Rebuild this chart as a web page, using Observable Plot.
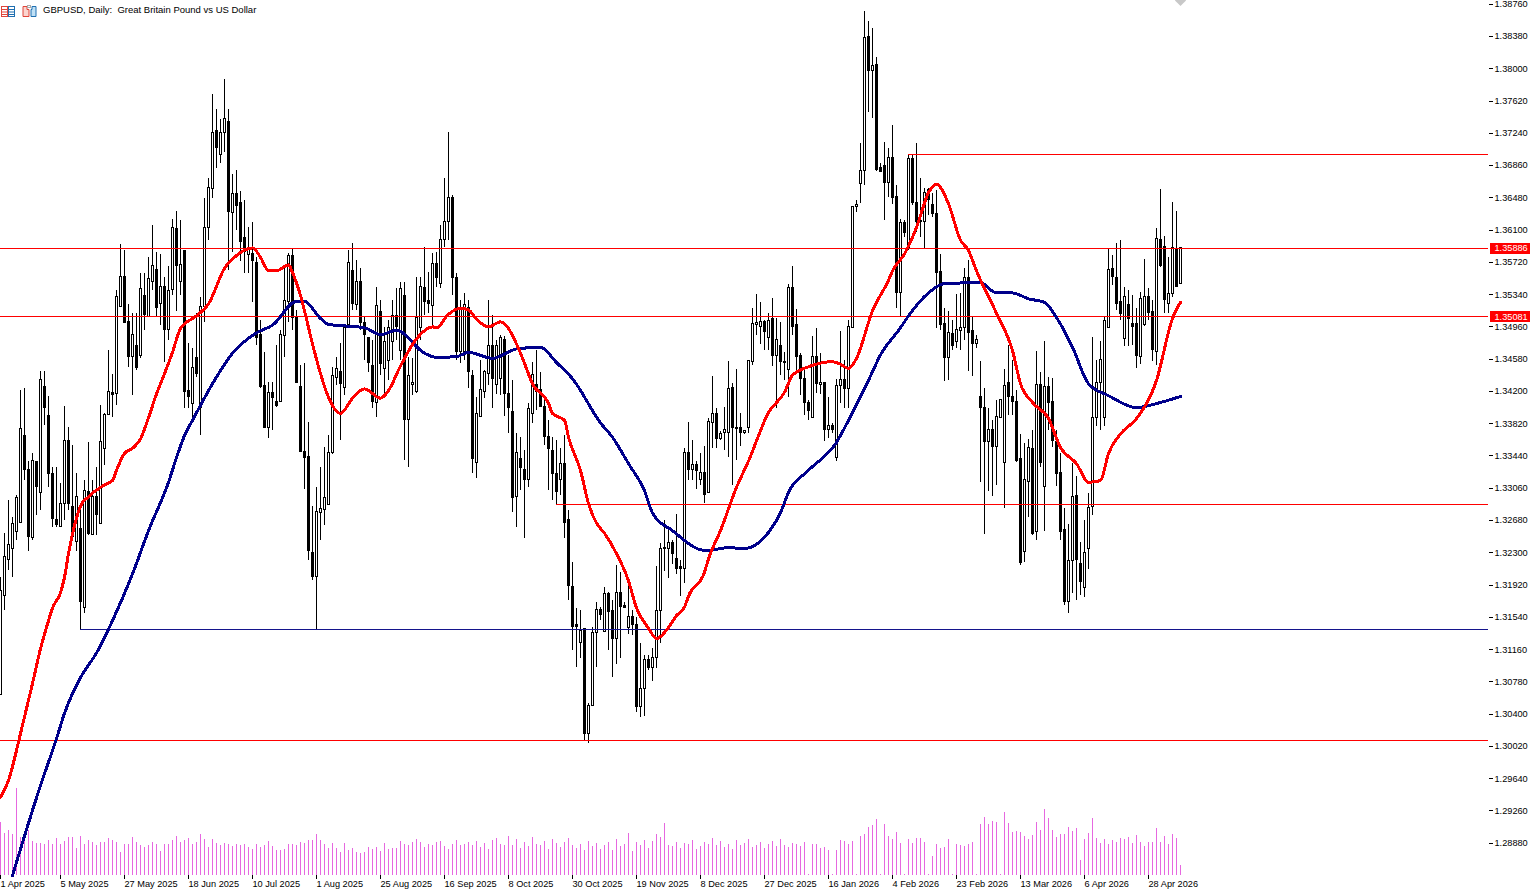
<!DOCTYPE html>
<html><head><meta charset="utf-8">
<style>html,body{margin:0;padding:0;background:#fff;overflow:hidden}#wrap{position:relative;width:1532px;height:889px}svg.plot{white-space:pre;display:block}#icons{position:absolute;left:0;top:4px}</style>
<script src="https://cdn.jsdelivr.net/npm/d3@7"></script>
<script src="https://cdn.jsdelivr.net/npm/@observablehq/plot@0.6"></script>
</head><body><div id="wrap"></div>
<script>
const title = "GBPUSD, Daily:  Great Britain Pound vs US Dollar";
// prices in pips (13589 = 1.3589)
const opens = [13062,13179,13221,13235,13255,13265,13367,13328,13247,13337,13300,13425,13391,13323,13269,13260,13288,13362,13284,13243,
13258,13165,13302,13251,13296,13264,13352,13392,13418,13417,13520,13555,13502,13460,13474,13462,13532,13508,13549,13563,
13523,13543,13492,13539,13611,13549,13585,13420,13405,13459,13400,13520,13612,13658,13727,13699,13724,13737,13630,13653,
13642,13601,13581,13582,13571,13486,13426,13377,13418,13408,13407,13485,13525,13579,13506,13425,13349,13343,13230,13201,
13277,13280,13286,13348,13436,13443,13424,13498,13562,13522,13549,13501,13483,13450,13406,13514,13446,13456,13478,13509,
13468,13532,13386,13428,13419,13495,13542,13526,13521,13570,13546,13598,13619,13648,13553,13466,13466,13518,13438,13336,
13390,13419,13440,13473,13428,13435,13480,13417,13396,13296,13341,13328,13316,13394,13428,13422,13402,13366,13350,13323,
13316,13335,13269,13190,13145,13124,13140,13017,13049,13135,13163,13137,13181,13161,13129,13183,13167,13141,13154,13145,
13048,13069,13104,13094,13106,13161,13236,13235,13242,13223,13213,13211,13347,13327,13333,13316,13324,13300,13383,13393,
13364,13371,13371,13424,13377,13377,13371,13377,13455,13498,13496,13502,13483,13505,13462,13473,13455,13445,13542,13498,
13462,13435,13406,13389,13461,13428,13430,13374,13379,13342,13426,13433,13423,13495,13637,13664,13679,13837,13797,13804,
13683,13685,13665,13695,13649,13536,13618,13589,13694,13642,13621,13619,13657,13640,13629,13561,13499,13459,13488,13478,
13491,13495,13553,13491,13476,13414,13401,13360,13375,13355,13389,13336,13430,13413,13408,13340,13231,13313,13352,13254,
13428,13307,13425,13407,13361,13324,13257,13172,13220,13297,13217,13189,13235,13284,13389,13430,13389,13495,13564,13554,
13525,13482,13522,13499,13499,13461,13498,13531,13513,13467,13598,13590,13523,13535,13588,13547];
const highs = [13201,13253,13291,13272,13297,13421,13423,13338,13347,13338,13443,13443,13414,13330,13330,13311,13402,13377,13356,13323,
13283,13315,13360,13315,13330,13403,13394,13468,13440,13539,13593,13586,13522,13512,13512,13559,13559,13578,13615,13584,
13581,13554,13567,13622,13632,13621,13585,13476,13470,13512,13531,13647,13671,13770,13752,13740,13787,13752,13675,13680,
13655,13645,13613,13619,13578,13503,13466,13430,13430,13474,13492,13566,13583,13588,13515,13450,13453,13384,13285,13307,
13330,13354,13368,13448,13460,13476,13495,13586,13594,13574,13565,13507,13483,13480,13542,13527,13495,13503,13527,13541,
13548,13548,13460,13459,13554,13554,13589,13560,13582,13584,13615,13671,13725,13651,13559,13527,13535,13527,13445,13413,
13456,13445,13527,13509,13480,13486,13485,13462,13433,13370,13366,13350,13406,13454,13468,13442,13409,13386,13366,13362,
13353,13368,13280,13218,13164,13162,13141,13052,13142,13171,13165,13189,13183,13174,13215,13207,13171,13191,13162,13154,
13123,13109,13109,13117,13214,13241,13268,13258,13244,13275,13221,13353,13383,13362,13338,13347,13355,13388,13437,13400,
13373,13401,13455,13429,13446,13394,13374,13456,13518,13534,13525,13503,13512,13529,13506,13501,13466,13546,13567,13517,
13465,13445,13409,13485,13494,13465,13430,13413,13382,13434,13491,13457,13503,13637,13645,13712,13867,13856,13847,13813,
13688,13713,13706,13733,13662,13622,13621,13698,13698,13712,13671,13659,13659,13653,13657,13581,13518,13514,13503,13534,
13535,13565,13574,13507,13486,13455,13424,13400,13386,13409,13410,13446,13474,13456,13421,13369,13359,13363,13374,13467,
13442,13479,13436,13435,13374,13347,13282,13263,13335,13320,13242,13268,13300,13483,13457,13479,13507,13588,13580,13594,
13598,13542,13539,13533,13518,13536,13575,13541,13527,13612,13658,13602,13578,13642,13632,13589];
const lows = [13062,13162,13209,13201,13244,13264,13315,13232,13244,13274,13280,13380,13307,13260,13260,13260,13268,13280,13244,13232,
13139,13158,13250,13250,13250,13263,13333,13392,13389,13403,13520,13500,13448,13415,13445,13459,13492,13507,13539,13507,
13498,13454,13480,13533,13514,13533,13400,13400,13388,13436,13368,13501,13598,13647,13682,13688,13701,13562,13584,13609,
13573,13559,13559,13525,13474,13423,13377,13364,13374,13401,13407,13460,13501,13492,13430,13348,13305,13221,13197,13139,
13244,13262,13286,13346,13427,13362,13415,13494,13515,13515,13492,13456,13442,13400,13389,13439,13415,13433,13456,13480,
13456,13339,13331,13415,13418,13480,13509,13512,13496,13542,13541,13589,13598,13533,13456,13453,13456,13424,13323,13318,
13389,13412,13427,13400,13416,13415,13390,13370,13277,13260,13303,13247,13307,13382,13397,13401,13356,13303,13291,13287,
13297,13247,13174,13115,13095,13106,13009,13005,13049,13095,13150,13137,13115,13083,13099,13106,13164,13134,13132,13042,
13036,13037,13091,13078,13094,13123,13208,13200,13216,13205,13178,13194,13315,13315,13305,13309,13288,13300,13353,13353,
13362,13350,13342,13309,13339,13355,13369,13370,13450,13486,13475,13468,13468,13449,13400,13439,13433,13413,13486,13445,
13415,13392,13386,13389,13418,13416,13361,13364,13370,13338,13406,13400,13400,13495,13631,13641,13662,13748,13741,13679,
13678,13621,13648,13640,13518,13508,13601,13586,13639,13607,13601,13588,13627,13625,13494,13492,13432,13433,13468,13471,
13468,13480,13443,13437,13470,13313,13252,13302,13296,13309,13389,13282,13392,13392,13336,13215,13218,13271,13250,13244,
13330,13255,13374,13354,13308,13244,13168,13158,13182,13174,13180,13177,13210,13274,13379,13374,13379,13495,13545,13515,
13503,13473,13473,13474,13447,13452,13496,13503,13455,13450,13566,13512,13512,13531,13543,13547];
const closes = [13185,13225,13239,13264,13294,13376,13328,13248,13338,13307,13433,13400,13323,13270,13263,13288,13362,13288,13248,13296,
13172,13303,13252,13296,13275,13360,13392,13419,13416,13531,13555,13500,13460,13487,13448,13541,13510,13552,13568,13518,
13543,13492,13538,13612,13568,13569,13419,13414,13448,13441,13520,13612,13660,13724,13707,13724,13741,13631,13653,13638,
13596,13584,13586,13574,13483,13425,13377,13418,13412,13403,13487,13527,13579,13507,13430,13349,13342,13232,13201,13278,
13281,13294,13348,13438,13447,13429,13495,13571,13523,13549,13500,13487,13454,13407,13521,13452,13478,13495,13509,13496,
13541,13386,13438,13430,13506,13543,13525,13523,13570,13554,13598,13619,13648,13553,13466,13518,13522,13443,13341,13394,
13422,13443,13473,13435,13473,13483,13417,13400,13295,13348,13330,13316,13399,13439,13419,13402,13366,13352,13323,13302,
13335,13265,13191,13143,13143,13138,13017,13050,13136,13163,13157,13181,13160,13129,13183,13166,13165,13154,13145,13048,
13070,13104,13094,13106,13162,13235,13234,13242,13229,13211,13211,13347,13327,13333,13326,13324,13298,13384,13393,13364,
13370,13374,13423,13377,13376,13371,13373,13456,13499,13501,13502,13490,13503,13462,13480,13455,13453,13542,13496,13461,
13435,13406,13397,13461,13429,13430,13375,13379,13374,13426,13433,13423,13496,13637,13639,13679,13836,13797,13803,13681,
13678,13665,13695,13648,13536,13618,13607,13694,13642,13619,13619,13654,13645,13629,13560,13498,13459,13489,13474,13492,
13495,13553,13489,13476,13480,13400,13360,13375,13355,13390,13410,13426,13414,13407,13338,13218,13316,13353,13252,13428,
13336,13425,13406,13362,13323,13255,13172,13220,13296,13222,13195,13230,13283,13389,13430,13457,13503,13563,13555,13523,
13511,13531,13505,13496,13462,13529,13531,13512,13469,13600,13568,13528,13535,13589,13543,13589];
const volumes = [53,42,45,41,87,38,38,45,34,32,32,31,35,31,37,31,34,38,38,27,39,31,35,33,30,33,33,37,35,33,23,31,31,38,33,30,28,30,33,31,24,31,31,35,39,33,35,37,31,33,41,36,28,36,32,30,32,31,29,31,30,31,28,26,31,28,30,34,29,25,25,26,31,31,30,33,32,35,35,41,35,31,27,32,27,23,32,25,27,23,22,23,28,26,28,24,32,26,27,27,
34,31,30,33,36,33,28,31,30,33,34,29,26,31,35,30,31,33,30,34,28,32,26,35,37,31,30,39,30,36,27,33,29,38,31,30,34,26,36,32,28,33,37,30,27,31,25,34,29,32,26,30,33,25,36,29,31,42,24,33,30,35,27,34,41,38,52,30,29,33,27,32,31,35,26,29,33,31,37,30,34,28,31,26,35,30,32,36,28,30,33,27,31,34,29,36,30,28,32,31,
29,33,1,31,31,27,28,25,1,25,35,34,31,34,1,39,41,48,50,56,1,51,39,36,43,32,1,36,32,37,37,33,1,19,31,27,28,36,1,31,30,29,31,33,1,51,58,51,54,53,1,63,52,43,44,43,39,36,40,53,45,66,57,45,38,41,41,48,44,47,15,36,42,57,37,32,36,31,35,33,37,36,38,32,40,33,29,33,33,47,33,39,31,41,37,10];
const redBars = [0,2,5,8,10,12,13,15,16,17,18,20,22,26,28,29,31,33,35,37,39,41,43,45,49,52,56,59,63,65,67,69,72,73,75,78,80,82,85,88,91,95,97,100,104,108,109,112,115,117,119,122,125,127,129,131,133,137,138,141,142,145,147,149,151,154,157,159,162,164,167,169,171,172,176,177,180,184,187,192,196,198,202,208,210,212,214,218,222,223,226,229,232,234,237,240,242,244,249,253,255,258,262,265,269,272,275,277,280,284,289,293,295];
const redLine = [12942,12962,13017,13076,13117,13150,13165,13183,13201,13229,13252,13285,13296,13310,13315,13327,13347,13353,13364,13389,13417,13441,13466,13494,13509,13523,13565,13580,13589,13578,13562,13562,13569,13560,13533,13476,13441,13413,13394,13412,13423,13412,13421,13450,13482,13496,13495,13511,13518,13516,13505,13496,13502,13494,13476,13453,13429,13406,13394,13386,13366,13327,13288,13265,13253,13229,13197,13165,13141,13129,13142,13156,13166,13179,13207,13223,13256,13307,13338,13395,13419,13439,13449,13455,13452,13447,13459,13515,13551,13562,13582,13613,13654,13664,13641,13598,13586,13562,13512,13468,13429,13407,13388,13354,13335,13313,13315,13347,13370,13388,13433,13506,13525];
const navyBars = [3,10,14,16,20,24,28,33,37,42,44,46,48,53,58,64,68,74,76,80,82,91,95,99,106,109,114,117,123,129,135,139,143,150,153,157,161,163,168,176,177,182,186,192,195,197,202,209,212,217,220,225,227,232,236,245,249,253,257,261,264,268,272,277,284,290,295];
const navyLine = [12850,12956,13011,13041,13083,13112,13150,13205,13256,13313,13342,13368,13386,13429,13465,13489,13498,13526,13526,13506,13499,13495,13487,13492,13465,13460,13461,13466,13459,13470,13472,13454,13435,13383,13366,13335,13303,13277,13256,13233,13233,13236,13235,13254,13277,13301,13327,13360,13386,13433,13463,13495,13509,13536,13547,13548,13536,13536,13529,13525,13507,13472,13429,13415,13401,13407,13414];
const priceTicks = [1.3876,1.3838,1.38,1.3762,1.3724,1.3686,1.3648,1.361,1.3572,1.3534,1.3496,1.3458,1.342,1.3382,1.3344,1.3306,1.3268,1.323,1.3192,1.3154,1.3116,1.3078,1.304,1.3002,1.2964,1.2926,1.2888];
const dateBars = [0,15,31,47,63,79,95,111,127,143,159,175,191,207,223,239,255,271,287];
const dateLabels = ["1 Apr 2025","5 May 2025","27 May 2025","18 Jun 2025","10 Jul 2025","1 Aug 2025","25 Aug 2025","16 Sep 2025","8 Oct 2025","30 Oct 2025","19 Nov 2025","8 Dec 2025","27 Dec 2025","16 Jan 2026","4 Feb 2026","23 Feb 2026","13 Mar 2026","6 Apr 2026","28 Apr 2026"];
const levels = [1.35886,1.35081,1.30088];
const priceTags = [1.35886,1.35081];
const trendRed = [{bar:227,price:1.3699},{bar:139,price:1.32868}];
const trendNavy = [{bar:20,price:1.31395}];

const volumeBase = 1.28503, volumeUnit = 0.00011776;
const bars = opens.map((o,i)=>({i,o:o/1e4,h:highs[i]/1e4,l:lows[i]/1e4,c:closes[i]/1e4,v:volumes[i]}));
const red = redBars.map((b,k)=>({b,p:redLine[k]/1e4}));
const navy = navyBars.map((b,k)=>({b,p:navyLine[k]/1e4}));
const font = "'Liberation Sans',Arial,sans-serif";
const crisp = {shapeRendering:"crispEdges"};

const chart = Plot.plot({
  width:1532,height:889,marginLeft:0,marginRight:44,marginTop:0,marginBottom:14,
  style:{fontFamily:font,fontSize:"9.2px",background:"#fff",color:"#000"},
  x:{domain:[0,372],range:[0,1488],axis:null},
  y:{domain:[1.2888,1.3876],range:[842.7,3.7],axis:null},
  marks:[
    Plot.ruleX(bars,{x:"i",y1:volumeBase,y2:d=>volumeBase+d.v*volumeUnit,stroke:"#e668e0",strokeWidth:1,...crisp}),
    Plot.ruleX(bars,{x:"i",y1:"l",y2:"h",stroke:"#000",strokeWidth:1,...crisp}),
    Plot.rect(bars,{x1:d=>d.i-0.25,x2:d=>d.i+0.25,y1:d=>Math.min(d.o,d.c),y2:d=>Math.max(d.o,d.c),fill:d=>d.c>=d.o?"#fff":"#000",stroke:"#000",strokeWidth:1,...crisp}),
    Plot.ruleY(levels,{x1:0,x2:372,stroke:"#ff0000",strokeWidth:1,...crisp}),
    Plot.ruleY(trendRed,{y:"price",x1:"bar",x2:372,stroke:"#ff0000",strokeWidth:1,...crisp}),
    Plot.ruleY(trendNavy,{y:"price",x1:"bar",x2:372,stroke:"#14148c",strokeWidth:1,...crisp}),
    Plot.line(navy,{x:"b",y:"p",stroke:"#00008b",strokeWidth:3,curve:"monotone-x",...crisp}),
    Plot.line(red,{x:"b",y:"p",stroke:"#ff0000",strokeWidth:3,curve:"monotone-x",...crisp}),
    Plot.dot([295],{x:d=>d,y:[1.38805],symbol:"diamond2",r:5,fill:"#c8c8c8",stroke:"none"}),
    Plot.axisX({ticks:dateBars,tickFormat:d=>dateLabels[dateBars.indexOf(d)],anchor:"bottom",line:true,label:null,tickSize:4,tickPadding:1,textAnchor:"start",fontSize:9.2,...crisp}),
    Plot.axisY({ticks:priceTicks,tickFormat:d=>d.toFixed(5),anchor:"right",line:true,label:null,tickSize:4,tickPadding:2,fontSize:9.2,...crisp}),
    Plot.ruleY(priceTags,{x1:372.6,x2:382.5,stroke:"#ff0000",strokeWidth:11.5,...crisp}),
    Plot.text(priceTags,{x:373.5,y:d=>d,text:d=>d.toFixed(5),fill:"#fff",textAnchor:"start",fontSize:9.2}),
    Plot.text([title],{frameAnchor:"top-left",dx:42.5,dy:6,fill:"#000",textAnchor:"start",lineAnchor:"top",fontSize:9.5})
  ]
});
const wrap=document.getElementById("wrap");
wrap.appendChild(chart);
const ic=document.createElement("div");ic.id="icons";
ic.innerHTML=`<svg width="40" height="13"><g fill="none" stroke-width="1"><rect x="1.5" y="1.5" width="6" height="10" stroke="#e0453a"/><rect x="8.5" y="1.5" width="6" height="10" stroke="#1f6fb0"/><path d="M2 4.5h5M2 7h5M2 9.5h5" stroke="#e0453a"/><path d="M9 4.5h5M9 7h5M9 9.5h5" stroke="#1f6fb0"/><path d="M23 1.5h4v3h2v7h-6z" fill="#fbd5cf" stroke="#e0453a"/><path d="M31 4.5h1v-3h4v10h-5z" fill="#bfe0f5" stroke="#1f6fb0"/><rect x="27.5" y="0.5" width="3" height="2" stroke="#aaa"/></g></svg>`;
wrap.appendChild(ic);
</script></body></html>
